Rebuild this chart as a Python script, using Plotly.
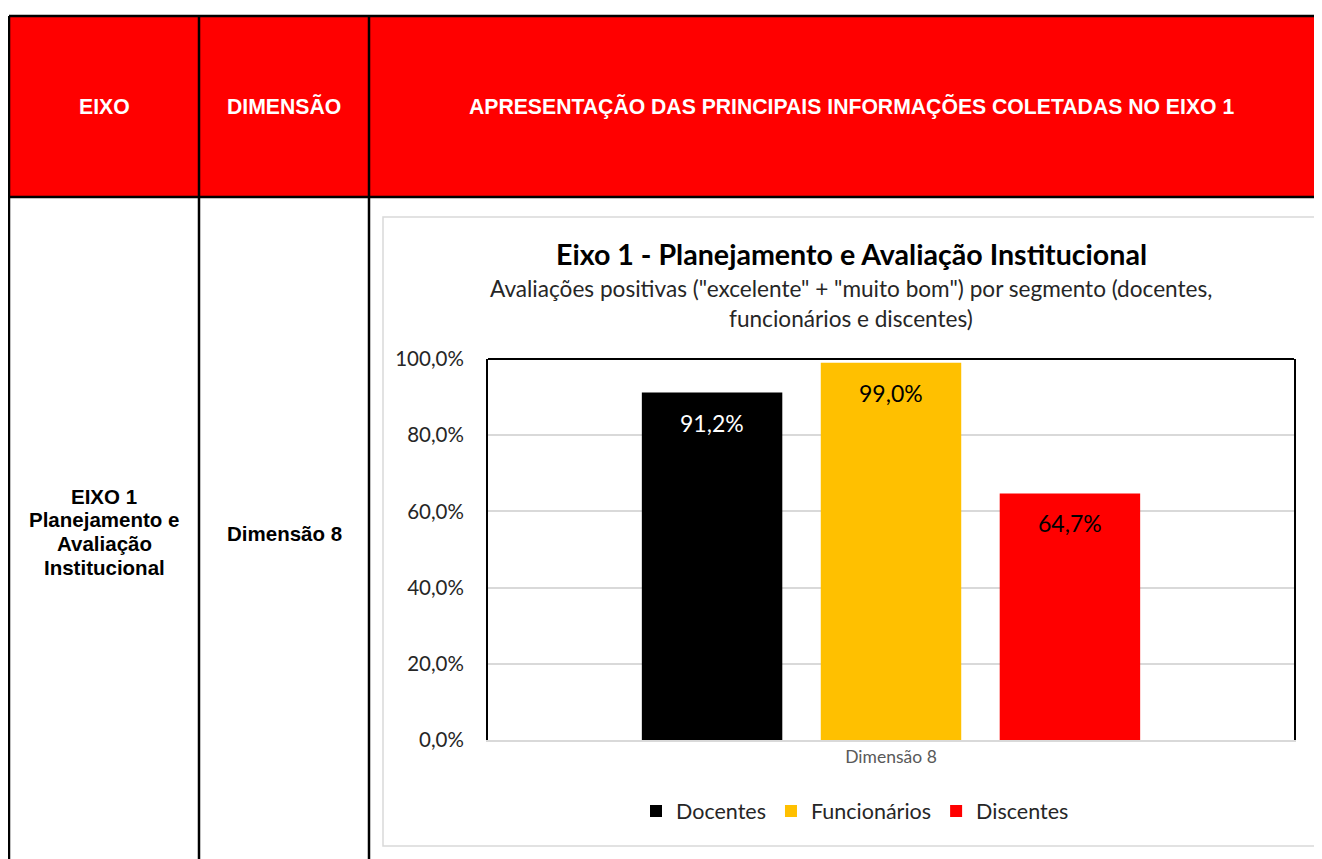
import plotly.graph_objects as go

# ---- data ----
categoria = ["Dimensão 8"]
segmentos = ["Docentes", "Funcionários", "Discentes"]
valores = [0.912, 0.990, 0.647]
cores = ["#000000", "#FFC000", "#FF0000"]
cores_rotulo = ["#FFFFFF", "#000000", "#000000"]
y_ticks = [0.0, 0.2, 0.4, 0.6, 0.8, 1.0]

cab_eixo = "EIXO"
cab_dim = "DIMENSÃO"
cab_apres = "APRESENTAÇÃO DAS PRINCIPAIS INFORMAÇÕES COLETADAS NO EIXO 1"
txt_eixo = ["EIXO 1", "Planejamento e", "Avaliação", "Institucional"]
txt_dim = "Dimensão 8"
titulo = "Eixo 1 - Planejamento e Avaliação Institucional"
subtitulo = ['Avaliações positivas ("excelente" + "muito bom") por segmento (docentes,',
             "funcionários e discentes)"]

# ---- layout geometry (page pixels) ----
PAGE_W, PAGE_H = 1322, 859
OFF = 8  # default body margin of the html page
L, R, T, B = 488, 1294, 359, 740
W, H = R - L, B - T
FIG_W, FIG_H = PAGE_W - 2 * OFF, PAGE_H - OFF


def px(x):
    return (x - L) / W


def py(y):
    return (B - y) / H


CHART_FONT = "Lato, Carlito, Calibri, sans-serif"
TABLE_FONT = "Liberation Sans, Arial, sans-serif"

fig = go.Figure()
for s, v, c in zip(segmentos, valores, cores):
    fig.add_trace(go.Bar(x=categoria, y=[v], name=s, marker=dict(color=c, line=dict(width=0))))

shapes = []
shapes.append(dict(type="rect", xref="paper", yref="paper", x0=px(9), x1=px(1340), y0=py(197), y1=py(16),
                   fillcolor="#FF0000", line=dict(width=0), layer="below"))
shapes.append(dict(type="rect", xref="paper", yref="paper", x0=px(383), x1=px(1318), y0=py(846), y1=py(217),
                   fillcolor="#FFFFFF", line=dict(color="#D9D9D9", width=1.5), layer="below"))
for xv in [9, 199, 369]:
    shapes.append(dict(type="line", xref="paper", yref="paper", x0=px(xv), x1=px(xv), y0=py(16), y1=py(880),
                       line=dict(color="#000000", width=2.5), layer="above"))
for yv in [16, 197]:
    shapes.append(dict(type="line", xref="paper", yref="paper", x0=px(9), x1=px(1340), y0=py(yv), y1=py(yv),
                       line=dict(color="#000000", width=2.5), layer="above"))
shapes.append(dict(type="line", xref="paper", yref="paper", x0=0, x1=1, y0=1, y1=1,
                   line=dict(color="#000000", width=2), layer="above"))


def text_ann(t, x, y, family, size, color):
    return dict(text=t, x=px(x), y=py(y), xref="paper", yref="paper", showarrow=False,
                xanchor="center", yanchor="middle", font=dict(family=family, size=size, color=color))


ann = []
ann.append(text_ann(f"<b>{cab_eixo}</b>", 104, 106, TABLE_FONT, 21.2, "white"))
ann.append(text_ann(f"<b>{cab_dim}</b>", 284, 106, TABLE_FONT, 21.2, "white"))
ann.append(text_ann(f"<b>{cab_apres}</b>", 851, 106, TABLE_FONT, 21.2, "white"))
for i, t in enumerate(txt_eixo):
    ann.append(text_ann(f"<b>{t}</b>", 104, 496 + i * 23.7, TABLE_FONT, 20.5, "black"))
ann.append(text_ann(f"<b>{txt_dim}</b>", 284, 533, TABLE_FONT, 20.5, "black"))
ann.append(text_ann(f"<b>{titulo}</b>", 851, 254, CHART_FONT, 28.6, "#000000"))
for i, t in enumerate(subtitulo):
    ann.append(text_ann(t, 851, 288 + i * 30, CHART_FONT, 22.6, "#262626"))

bargap = 0.334
pitch = W * (1 - bargap) / len(segmentos)
for i, (v, c) in enumerate(zip(valores, cores_rotulo)):
    ann.append(dict(text=f"{v * 100:.1f}%".replace(".", ","), x=categoria[0], y=v, xref="x", yref="y",
                    xshift=(i - 1) * pitch, yshift=-30, showarrow=False, xanchor="center", yanchor="middle",
                    font=dict(family=CHART_FONT, size=23, color=c)))

fig.update_layout(
    width=FIG_W, height=FIG_H,
    margin=dict(l=L - OFF, r=FIG_W - (R - OFF), t=T - OFF, b=FIG_H - (B - OFF), pad=0),
    paper_bgcolor="white", plot_bgcolor="rgba(0,0,0,0)",
    barmode="group", bargap=bargap, bargroupgap=0.215,
    separators=",.",
    showlegend=True,
    legend=dict(orientation="h", x=px(855), xanchor="center", y=py(811), yanchor="middle",
                font=dict(family=CHART_FONT, size=21.5, color="#262626"), itemwidth=30,
                bgcolor="rgba(0,0,0,0)"),
    shapes=shapes, annotations=ann,
    xaxis=dict(showline=True, linecolor="#D9D9D9", linewidth=2, showgrid=False, ticks="",
               tickfont=dict(family=CHART_FONT, size=17.5, color="#595959"), fixedrange=True),
    yaxis=dict(range=[0, 1], tickvals=y_ticks, tickformat=".1%", showline=True, linecolor="#000000",
               linewidth=2, mirror=True, showgrid=True, gridcolor="#D9D9D9", gridwidth=1.5,
               zeroline=False, ticks="", ticklabelstandoff=18,
               tickfont=dict(family=CHART_FONT, size=20.5, color="#262626"), fixedrange=True),
)

fig.write_html("out.html")
